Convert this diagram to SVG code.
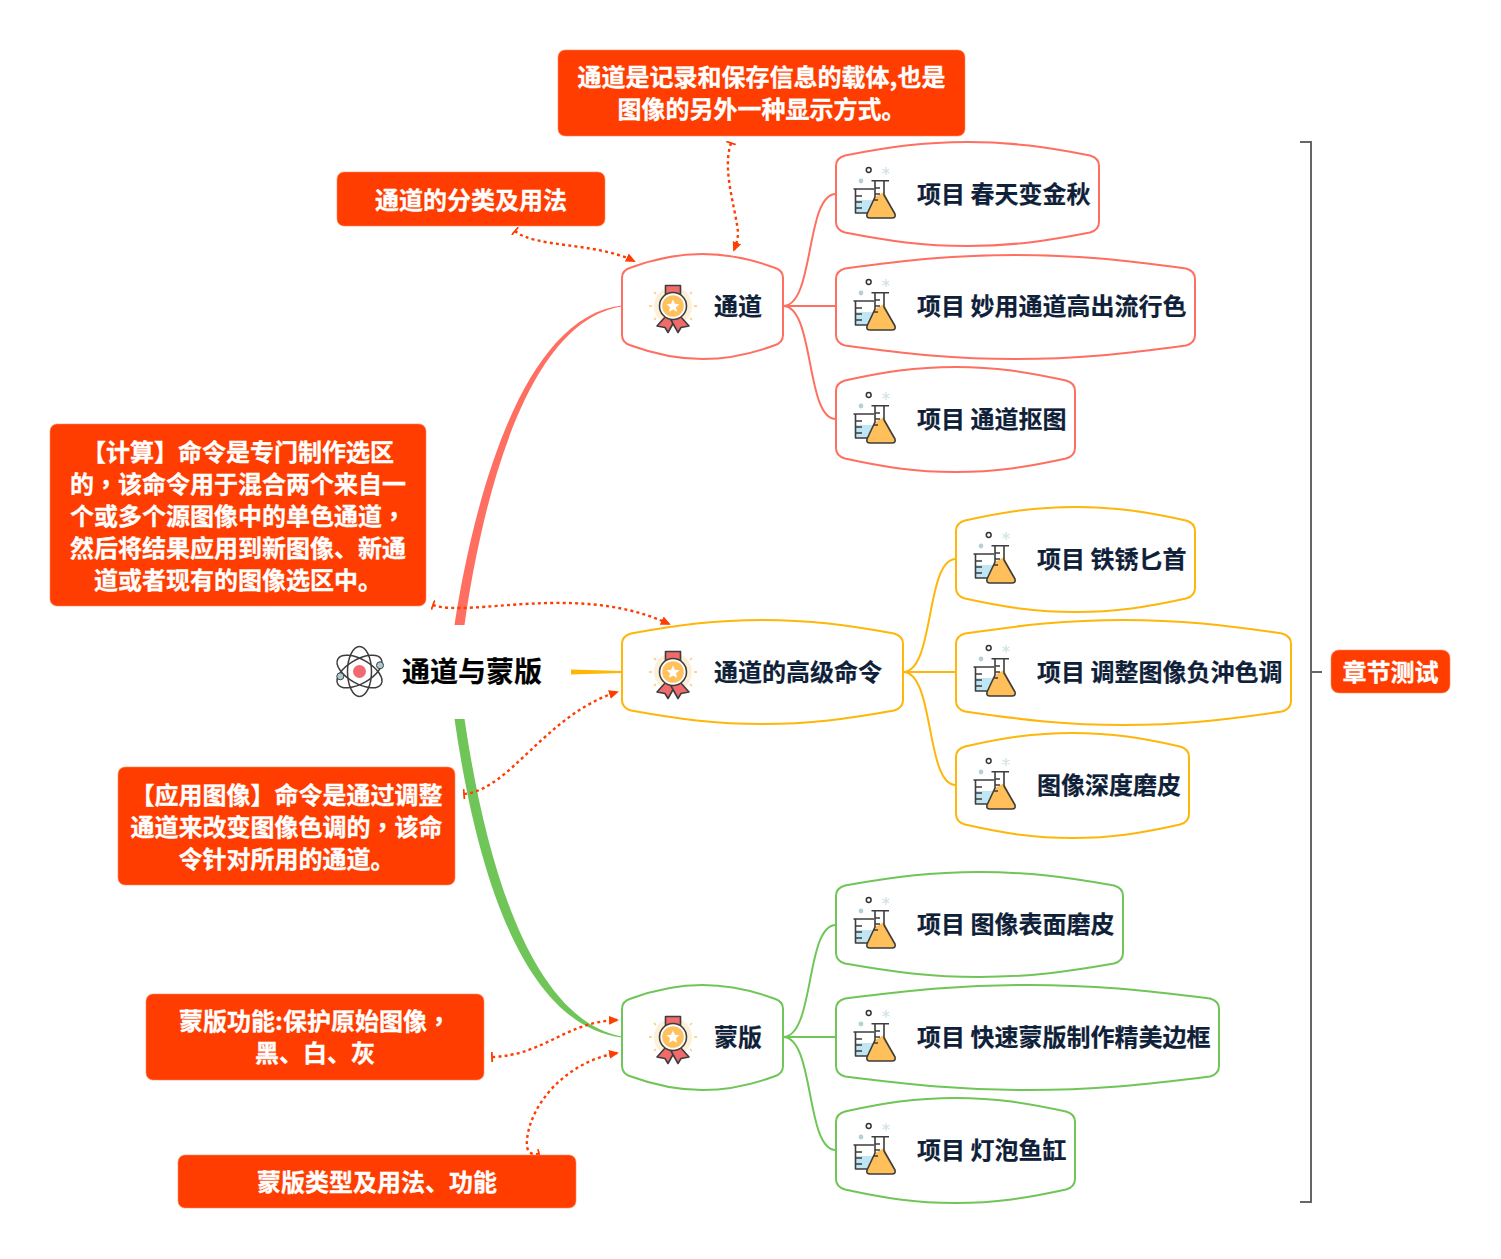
<svg xmlns="http://www.w3.org/2000/svg" width="1501" height="1259" viewBox="0 0 1501 1259">
<style>
text{font-family:"Noto Sans CJK SC","Liberation Sans",sans-serif;font-weight:700;font-size:24px}
.t{fill:#0f2138;stroke:#0f2138;stroke-width:.2}
.n{fill:#fff;stroke:#fff;stroke-width:.3;text-anchor:middle}
.cm{font-family:"Noto Sans CJK TC","Liberation Sans",sans-serif}
.note{fill:#ff3d00;stroke:#ff8a5e;stroke-width:.6}
.b{fill:#fff;stroke-width:2}
.red{stroke:#ff6f61}.yel{stroke:#ffb60a}.grn{stroke:#70c558}
.c{fill:none;stroke-width:2}
.d{fill:none;stroke:#ff3d00;stroke-width:2.4;stroke-dasharray:3 3.2;marker-start:url(#tick);marker-end:url(#arr)}
.k{stroke:#3d3d3d;stroke-width:1.6;stroke-linejoin:round}
</style>
<defs>
<marker id="arr" viewBox="0 0 10 10" refX="8" refY="5" markerWidth="10" markerHeight="10" markerUnits="userSpaceOnUse" orient="auto"><path d="M0,0.500L10,5L0,9.500Z" fill="#ff3d00"/></marker>
<marker id="tick" viewBox="0 0 8 10" refX="1" refY="5" markerWidth="8" markerHeight="10" markerUnits="userSpaceOnUse" orient="auto"><path d="M1,0V10" stroke="#ff3d00" stroke-width="1.800" fill="none"/></marker>
<g id="flask">
<circle cx="868.7" cy="170" r="2.4" fill="#fff" stroke="#333" stroke-width="1.5"/>
<path d="M886,167V175M882.500,169L889.500,173M882.500,173L889.500,169" stroke="#d3e3e6" stroke-width="1.300"/>
<circle cx="861" cy="181" r="2.4" fill="#b5d0d6"/>
<path d="M856,189H873V213H856Z" fill="#fff"/>
<path d="M856,200H873V213H856Z" fill="#bfe6f2"/>
<path d="M853.500,189H874M855.500,189V213H872M855.500,196H862M855.500,202H862M855.500,208H862" fill="none" class="k"/>
<path d="M875,181H884V192L895,214Q896,218 892,218H870Q866,218 867,214L875,198Z" fill="#fff"/>
<path d="M875,197L884,192L895,214Q896,218 892,218H870Q866,218 867,214Z" fill="#ffbf5b"/>
<path d="M871.500,180.700H889M875,181V197L867,214Q866,218 870,218H892Q896,218 895,214L884,195V181M875,188H880M875,194H880M873,200H878" fill="none" class="k"/>
</g>
<g id="medal">
<circle r="19" fill="#fdf0d8"/>
<path d="M-19,-14l2,2M19,-14l-2,2M-24,0h3M24,0h-3M-19,14l2,-2M19,14l-2,-2" stroke="#fbc96b" stroke-width="1.400"/>
<path d="M-7.500,-20.500H7.500V-10H-7.500Z" fill="#f26b6b" class="k"/>
<path d="M-7,10L-16,20L-8,21.500L-5,26.500L2,14Z" fill="#f26b6b" class="k"/>
<path d="M7,10L16,20L8,21.500L5,26.500L-2,14Z" fill="#f26b6b" class="k"/>
<circle r="13.500" fill="#fff" class="k"/>
<circle r="10.800" fill="#ffc05e"/>
<path d="M0,-6.500L1.900,-2.200L6.500,-1.800L3,1.200L4,5.800L0,3.400L-4,5.800L-3,1.200L-6.500,-1.800L-1.900,-2.200Z" fill="#fff"/>
</g>
</defs>

<g id="connectors">
<path d="M454.500,625C474,498 523,316 622,305.500V306.500C526,321 482,502 464.500,625Z" fill="#ff6f61"/>
<path d="M571,669.500L622,671V673L571,674.500Z" fill="#ffb60a"/>
<path d="M454.500,719C475,862 520,1025 622,1037.500V1036.500C529,1019 485,858 464.500,719Z" fill="#70c558"/>
<path class="c red" d="M783,306C815,306 805,194 836,194M783,306H836M783,306C815,306 805,419 836,419"/>
<path class="c yel" d="M903,672C935,672 925,559 956,559M903,672H956M903,672C935,672 925,785 956,785"/>
<path class="c grn" d="M783,1037C815,1037 805,925 836,925M783,1037H836M783,1037C815,1037 805,1150 836,1150"/>
<path d="M1300,142H1311V1202H1300M1311,672H1322" fill="none" stroke="#666" stroke-width="2"/>
<path class="d" d="M731,143C722,170 735,205 738,232C738,240 736,245 734,250"/>
<path class="d" d="M515,231C535,248 595,242 634,261"/>
<path class="d" d="M433,605C470,618 580,582 669,624"/>
<path class="d" d="M464,794C510,790 545,715 617,692"/>
<path class="d" d="M492,1057C545,1055 565,1022 617,1020"/>
<path class="d" d="M539,1154C528,1156 526,1148 527,1140C530,1105 565,1062 617,1053"/>
</g>

<g id="root">
<g fill="none" stroke="#3d3d3d" stroke-width="1.500">
<ellipse cx="359.500" cy="671.500" rx="12" ry="25"/>
<ellipse cx="359.500" cy="671.500" rx="12" ry="25" transform="rotate(60 359.500 671.500)"/>
<ellipse cx="359.500" cy="671.500" rx="12" ry="25" transform="rotate(-60 359.500 671.500)"/>
</g>
<circle cx="359.500" cy="671.500" r="6.500" fill="#f16a6f"/>
<circle cx="380" cy="665.300" r="3.500" fill="#aacdd2" stroke="#3d3d3d"/>
<circle cx="340.300" cy="676.300" r="3.500" fill="#aacdd2" stroke="#3d3d3d"/>
<text x="402" y="682" fill="#000" stroke="#000" stroke-width=".2" style="font-size:28px">通道与蒙版</text>
</g>

<g id="n1"><path class="b red" d="M622,278q0,-8 9,-10.500c23.200,-8.500 44.100,-13.500 71.500,-13.500c27.400,0 48.300,5 71.500,13.500q9,2.500 9,10.500V335q0,8 -9,10.500c-23.200,8.500 -44.100,13.500 -71.500,13.500c-27.400,0 -48.300,-5 -71.500,-13.500q-9,-2.500 -9,-10.500Z"/><use href="#medal" transform="translate(673,306)"/><text class="t" x="714" y="315">通道</text></g>
<g id="n11"><path class="b red" d="M836,166q0,-8 9,-10.500c43.600,-8.500 77.800,-13.500 122.500,-13.500c44.700,0 78.900,5 122.500,13.500q9,2.500 9,10.500V222q0,8 -9,10.500c-43.600,8.500 -77.800,13.500 -122.500,13.500c-44.700,0 -78.900,-5 -122.500,-13.500q-9,-2.500 -9,-10.500Z"/><use href="#flask"/><text class="t" x="917" y="203">项目 春天变金秋</text></g>
<g id="n12"><path class="b red" d="M836,279q0,-8 9,-10.500c62.800,-8.500 109.500,-13.500 170.500,-13.500c61,0 107.700,5 170.500,13.500q9,2.500 9,10.500V335q0,8 -9,10.500c-62.800,8.500 -109.500,13.500 -170.500,13.500c-61,0 -107.700,-5 -170.500,-13.500q-9,-2.500 -9,-10.500Z"/><use href="#flask" transform="translate(0,112)"/><text class="t" x="917" y="315">项目 妙用通道高出流行色</text></g>
<g id="n13"><path class="b red" d="M836,391q0,-8 9,-10.500c38.800,-8.500 69.900,-13.500 110.500,-13.500c40.600,0 71.700,5 110.500,13.500q9,2.500 9,10.500V448q0,8 -9,10.500c-38.800,8.500 -69.900,13.500 -110.500,13.500c-40.600,0 -71.700,-5 -110.500,-13.500q-9,-2.500 -9,-10.500Z"/><use href="#flask" transform="translate(0,225)"/><text class="t" x="917" y="428">项目 通道抠图</text></g>

<g id="n2"><path class="b yel" d="M622,644q0,-8 9,-10.500c47.200,-8.500 83.700,-13.500 131.500,-13.500c47.800,0 84.300,5 131.500,13.500q9,2.500 9,10.500V700q0,8 -9,10.500c-47.200,8.500 -83.700,13.500 -131.500,13.500c-47.800,0 -84.300,-5 -131.500,-13.500q-9,-2.500 -9,-10.500Z"/><use href="#medal" transform="translate(673,672)"/><text class="t" x="714" y="681">通道的高级命令</text></g>
<g id="n21"><path class="b yel" d="M956,531q0,-8 9,-10.500c38.800,-8.500 69.900,-13.500 110.500,-13.500c40.600,0 71.700,5 110.500,13.500q9,2.500 9,10.500V588q0,8 -9,10.500c-38.800,8.500 -69.900,13.500 -110.500,13.500c-40.600,0 -71.700,-5 -110.500,-13.500q-9,-2.500 -9,-10.500Z"/><use href="#flask" transform="translate(120,365)"/><text class="t" x="1037" y="568">项目 铁锈匕首</text></g>
<g id="n22"><path class="b yel" d="M956,644q0,-8 9,-10.500c58,-8.500 101.600,-13.500 158.500,-13.500c57,0 100.500,5 158.500,13.500q9,2.500 9,10.500V701q0,8 -9,10.500c-58,8.500 -101.600,13.500 -158.500,13.500c-57,0 -100.500,-5 -158.500,-13.500q-9,-2.500 -9,-10.500Z"/><use href="#flask" transform="translate(120,478)"/><text class="t" x="1037" y="681">项目 调整图像负沖色调</text></g>
<g id="n23"><path class="b yel" d="M956,757q0,-8 9,-10.500c37.600,-8.500 67.900,-13.500 107.500,-13.500c39.600,0 69.900,5 107.500,13.500q9,2.500 9,10.500V814q0,8 -9,10.500c-37.600,8.500 -67.900,13.500 -107.500,13.500c-39.600,0 -69.900,-5 -107.500,-13.500q-9,-2.500 -9,-10.500Z"/><use href="#flask" transform="translate(120,591)"/><text class="t" x="1037" y="794">图像深度磨皮</text></g>

<g id="n3"><path class="b grn" d="M622,1009q0,-8 9,-10.500c23.200,-8.500 44.100,-13.500 71.500,-13.500c27.400,0 48.300,5 71.500,13.500q9,2.500 9,10.500V1066q0,8 -9,10.500c-23.200,8.500 -44.100,13.500 -71.500,13.500c-27.400,0 -48.300,-5 -71.500,-13.500q-9,-2.500 -9,-10.500Z"/><use href="#medal" transform="translate(673,1037)"/><text class="t" x="714" y="1046">蒙版</text></g>
<g id="n31"><path class="b grn" d="M836,896q0,-8 9,-10.500c48.400,-8.500 85.700,-13.500 134.500,-13.500c48.800,0 86.100,5 134.500,13.500q9,2.500 9,10.500V953q0,8 -9,10.500c-48.400,8.500 -85.700,13.500 -134.500,13.500c-48.800,0 -86.100,-5 -134.500,-13.500q-9,-2.500 -9,-10.500Z"/><use href="#flask" transform="translate(0,730)"/><text class="t" x="917" y="933">项目 图像表面磨皮</text></g>
<g id="n32"><path class="b grn" d="M836,1009q0,-8 9,-10.500c67.600,-8.500 117.400,-13.500 182.500,-13.500c65.100,0 114.900,5 182.500,13.500q9,2.500 9,10.500V1066q0,8 -9,10.500c-67.600,8.500 -117.400,13.500 -182.500,13.500c-65.100,0 -114.900,-5 -182.500,-13.500q-9,-2.500 -9,-10.500Z"/><use href="#flask" transform="translate(0,843)"/><text class="t" x="917" y="1046">项目 快速蒙版制作精美边框</text></g>
<g id="n33"><path class="b grn" d="M836,1122q0,-8 9,-10.500c38.800,-8.500 69.900,-13.500 110.500,-13.500c40.600,0 71.700,5 110.500,13.500q9,2.500 9,10.500V1179q0,8 -9,10.500c-38.800,8.500 -69.900,13.500 -110.500,13.500c-40.600,0 -71.700,-5 -110.500,-13.500q-9,-2.500 -9,-10.500Z"/><use href="#flask" transform="translate(0,956)"/><text class="t" x="917" y="1159">项目 灯泡鱼缸</text></g>

<g id="note-top"><rect class="note" x="558" y="50" width="407" height="86" rx="7"/><text class="n" x="761.500" y="86">通道是记录和保存信息的载体,也是</text><text class="n" x="761.500" y="118">图像的另外一种显示方式。</text></g>
<g id="note-class"><rect class="note" x="337" y="172" width="268" height="54" rx="7"/><text class="n" x="471" y="209">通道的分类及用法</text></g>
<g id="note-calc"><rect class="note" x="50" y="424" width="376" height="182" rx="7"/><text class="n" x="238" y="461">【计算】命令是专门制作选区</text><text class="n" x="238" y="493">的<tspan class="cm">，</tspan>该命令用于混合两个来自一</text><text class="n" x="238" y="525">个或多个源图像中的单色通道<tspan class="cm">，</tspan></text><text class="n" x="238" y="557">然后将结果应用到新图像、新通</text><text class="n" x="238" y="589">道或者现有的图像选区中。</text></g>
<g id="note-apply"><rect class="note" x="118" y="767" width="337" height="118" rx="7"/><text class="n" x="286.500" y="804">【应用图像】命令是通过调整</text><text class="n" x="286.500" y="836">通道来改变图像色调的<tspan class="cm">，</tspan>该命</text><text class="n" x="286.500" y="868">令针对所用的通道。</text></g>
<g id="note-mask"><rect class="note" x="146" y="994" width="338" height="86" rx="7"/><text class="n" x="315" y="1030">蒙版功能:保护原始图像<tspan class="cm">，</tspan></text><text class="n" x="315" y="1062">黑、白、灰</text></g>
<g id="note-type"><rect class="note" x="178" y="1155" width="398" height="53" rx="7"/><text class="n" x="377" y="1191">蒙版类型及用法、功能</text></g>
<g id="note-test"><rect class="note" x="1331" y="650" width="119" height="43" rx="8"/><text class="n" x="1390.500" y="681">章节测试</text></g>
</svg>
